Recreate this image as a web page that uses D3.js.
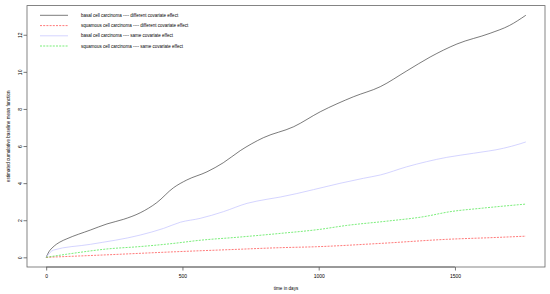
<!DOCTYPE html>
<html>
<head>
<meta charset="utf-8">
<script src="https://cdn.jsdelivr.net/npm/d3@7"></script>
<style>
    body { margin: 0; background: #ffffff; }
    text { font-family: "Liberation Sans", Arial, sans-serif; fill: #000; }
</style>
</head>
<body>
<div id="chart"></div>
<script>
// data (days, cumulative mean)
const basal_diff = [[0,0],[10,0.3],[25,0.55],[50,0.82],[76,1.0],[162,1.47],[223,1.8],[284,2.05],[345,2.4],[406,2.95],[467,3.75],[516,4.17],[590,4.61],[650,5.1],[712,5.75],[797,6.45],[908,7.04],[1006,7.85],[1128,8.66],[1226,9.2],[1323,10.05],[1409,10.8],[1507,11.5],[1629,12.08],[1700,12.5],[1760,13.05]];
const squam_diff = [[0,0],[200,0.12],[474,0.3],[700,0.43],[859,0.52],[989,0.57],[1226,0.75],[1470,0.97],[1650,1.07],[1760,1.14]];
const basal_same = [[0,0],[27,0.39],[162,0.7],[345,1.2],[431,1.56],[492,1.89],[565,2.1],[650,2.46],[737,2.91],[810,3.13],[859,3.25],[981,3.65],[1078,3.99],[1164,4.26],[1226,4.44],[1323,4.88],[1470,5.39],[1568,5.61],[1678,5.88],[1739,6.12],[1760,6.22]];
const squam_same = [[0,0],[100,0.22],[223,0.45],[345,0.58],[467,0.75],[565,0.92],[700,1.08],[859,1.29],[1000,1.5],[1103,1.72],[1250,1.95],[1385,2.19],[1482,2.46],[1600,2.65],[1760,2.87]];

const x_ticks = [0, 500, 1000, 1500];
const y_ticks = [0, 2, 4, 6, 8, 10, 12];
const legend_labels = [
    "basal cell carcinoma ---- different covariate effect",
    "squamous cell carcinoma ---- different covariate effect",
    "basal cell carcinoma ---- same covariate effect",
    "squamous cell carcinoma ---- same covariate effect"
];

class Chart {

    constructor(el) {
        // constants
        this.width = 550;
        this.height = 294;
        this.left = 27;
        this.right = 545;
        this.top = 5.6;
        this.bottom = 267;

        this.series = [
            {data: basal_diff, color: "#222222", dash: null, width: 0.6},
            {data: squam_diff, color: "#ff2020", dash: "2,1.2", width: 0.6},
            {data: basal_same, color: "#c9c9ff", dash: null, width: 0.8},
            {data: squam_same, color: "#20e020", dash: "2,1.2", width: 0.6}
        ];

        // R pads the data range by 4% on each side
        this.x = d3.scaleLinear().domain([-70.4, 1830.4]).range([this.left, this.right]);
        this.y = d3.scaleLinear().domain([-0.522, 13.572]).range([this.bottom, this.top]);

        d3.select(el).html("");
        this.svg = d3.select(el).append("svg")
            .attr("width", this.width)
            .attr("height", this.height)
            .style("display", "block");
    }

    draw_axes() {
        const g_x = this.svg.append("g")
            .attr("transform", "translate(0," + this.bottom + ")")
            .call(d3.axisBottom(this.x).tickValues(x_ticks).tickFormat(d3.format("d"))
                .tickSize(3.5).tickPadding(4));
        g_x.selectAll("text").style("font-size", "5px").style("font-family", "Liberation Sans, Arial");

        const g_y = this.svg.append("g")
            .attr("transform", "translate(" + this.left + ",0)")
            .call(d3.axisLeft(this.y).tickValues(y_ticks).tickSize(3.5));
        // rotated tick labels, as R does on the y axis
        g_y.selectAll("text")
            .style("font-size", "5px")
            .style("font-family", "Liberation Sans, Arial")
            .attr("text-anchor", "middle")
            .attr("x", 0)
            .attr("y", -4.6)
            .attr("dy", null)
            .attr("transform", "rotate(-90)");

        // R draws axis lines only between the outer ticks
        this.svg.selectAll(".domain").remove();
        this.svg.append("line")
            .attr("x1", this.x(0)).attr("x2", this.x(1500))
            .attr("y1", this.bottom).attr("y2", this.bottom)
            .attr("stroke", "#555").attr("stroke-width", 0.8);
        this.svg.selectAll(".tick line").attr("stroke", "#555").attr("stroke-width", 0.8);

        // box
        this.svg.append("rect")
            .attr("x", this.left).attr("y", this.top)
            .attr("width", this.right - this.left).attr("height", this.bottom - this.top)
            .attr("fill", "none").attr("stroke", "#666").attr("stroke-width", 0.8);

        // titles
        this.svg.append("text")
            .attr("x", (this.left + this.right) / 2).attr("y", 289.5)
            .attr("text-anchor", "middle").style("font-size", "4.6px")
            .text("time in days");
        const cy = (this.top + this.bottom) / 2;
        this.svg.append("text")
            .attr("transform", "translate(9.5," + cy + ") rotate(-90)")
            .attr("text-anchor", "middle").style("font-size", "4.6px")
            .text("estimated cumulative baseline mean function");
    }

    draw_lines() {
        const line = d3.line()
            .x(d => this.x(d[0]))
            .y(d => this.y(d[1]))
            .curve(d3.curveMonotoneX);

        this.svg.selectAll(".series")
            .data(this.series)
            .enter().append("path")
            .attr("class", "series")
            .attr("d", d => line(d.data))
            .attr("fill", "none")
            .attr("stroke", d => d.color)
            .attr("stroke-width", d => d.width)
            .attr("stroke-dasharray", d => d.dash);
    }

    draw_legend() {
        const rows = [15.3, 25.6, 35.8, 46];
        const g = this.svg.append("g");
        g.selectAll(".leg_line")
            .data(this.series)
            .enter().append("line")
            .attr("class", "leg_line")
            .attr("x1", 40).attr("x2", 68)
            .attr("y1", (d, i) => rows[i]).attr("y2", (d, i) => rows[i])
            .attr("stroke", d => d.color)
            .attr("stroke-width", d => d.width)
            .attr("stroke-dasharray", d => d.dash);
        g.selectAll(".leg_text")
            .data(legend_labels)
            .enter().append("text")
            .attr("class", "leg_text")
            .attr("x", 81)
            .attr("y", (d, i) => rows[i] + 1.6)
            .style("font-size", "4.5px")
            .text(d => d);
    }
}

const chart = new Chart("#chart");
chart.draw_axes();
chart.draw_lines();
chart.draw_legend();
</script>
</body>
</html>
